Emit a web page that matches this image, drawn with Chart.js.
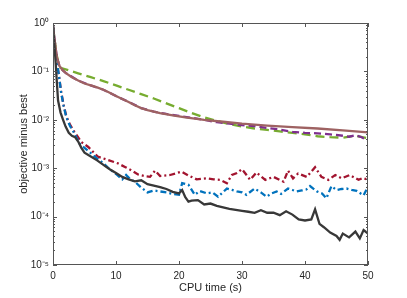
<!DOCTYPE html>
<html>
<head>
<meta charset="utf-8">
<script src="https://cdn.jsdelivr.net/npm/chart.js@4.4.1/dist/chart.umd.min.js"></script>
<style>
    html, body { margin: 0; padding: 0; background: #ffffff; }
    #wrap { width: 407px; height: 298px; }
</style>
</head>
<body>
<div id="wrap"><canvas id="convergenceChart" width="407" height="298"></canvas></div>
<script>
// tick labels
const xTicks = [0, 10, 20, 30, 40, 50];
const yTicks = [1e-5, 1e-4, 1e-3, 1e-2, 1e-1, 1];

// series (CPU time in s, objective minus best)
const blackTime = [0, 0.2, 0.4, 0.6, 0.8, 1.2, 1.6, 2.0, 2.5, 3.0, 3.5, 4.0, 4.5, 5.0, 6.0, 7.0, 8.0, 9.0, 10, 11,
    12, 13, 14, 15, 16, 17, 18, 19, 20, 20.5, 21, 21.5, 22, 23, 24, 25, 26, 27, 28, 29,
    30, 31, 32, 33, 34, 35, 36, 37, 38, 39, 40, 41, 41.6, 42.3, 43, 44, 45, 45.5, 46, 47,
    48, 48.7, 49.3, 50];
const blackGap = [8.51e-1, 3.98e-1, 1.66e-1, 6.31e-2, 2.51e-2, 1.41e-2, 1.0e-2, 7.24e-3, 5.37e-3, 4.68e-3,
    4.37e-3, 3.55e-3, 2.63e-3, 2.09e-3, 1.74e-3, 1.45e-3, 1.17e-3, 9.55e-4, 7.94e-4, 6.61e-4,
    5.89e-4, 5.37e-4, 5.62e-4, 4.68e-4, 4.37e-4, 4.07e-4, 3.72e-4, 3.24e-4, 3.02e-4, 3.55e-4,
    2.51e-4, 2.04e-4, 2.14e-4, 2.19e-4, 1.78e-4, 1.86e-4, 1.66e-4, 1.55e-4, 1.45e-4, 1.38e-4,
    1.32e-4, 1.26e-4, 1.2e-4, 1.35e-4, 1.2e-4, 1.2e-4, 1.07e-4, 1.29e-4, 1.1e-4, 8.71e-5,
    8.32e-5, 8.71e-5, 1.41e-4, 7.08e-5, 6.03e-5, 4.68e-5, 3.98e-5, 3.31e-5, 4.47e-5, 3.72e-5,
    4.9e-5, 3.55e-5, 5.25e-5, 4.47e-5];

const blueTime = [0, 0.3, 0.6, 0.9, 1.3, 1.7, 2.1, 2.7, 3.4, 4.2, 5, 6, 7, 8, 9, 10, 11, 11.6, 12.2, 13,
    14, 15, 16, 17, 18, 19, 20, 20.5, 21.5, 22.5, 23.3, 24.4, 25.3, 26.2, 27.6, 28.4, 29.2, 30, 30.7, 32,
    33, 33.9, 34.7, 35.5, 36.2, 37.3, 38, 38.7, 39.5, 40.2, 40.8, 41.9, 42.7, 43.4, 44.2, 45, 45.8, 46.6, 47.4, 48.2,
    49.3, 50];
const blueGap = [8.51e-1, 3.55e-1, 1.58e-1, 8.91e-2, 3.55e-2, 1.91e-2, 1.15e-2, 7.41e-3, 5.25e-3, 3.24e-3,
    2.63e-3, 2.04e-3, 1.58e-3, 1.26e-3, 9.55e-4, 7.59e-4, 5.89e-4, 7.24e-4, 6.03e-4, 5.25e-4,
    3.98e-4, 3.16e-4, 3.47e-4, 3.31e-4, 3.16e-4, 2.95e-4, 2.82e-4, 4.9e-4, 4.57e-4, 2.82e-4,
    3.39e-4, 3.02e-4, 3.16e-4, 2.57e-4, 3.8e-4, 3.55e-4, 3.31e-4, 3.16e-4, 2.82e-4, 3.8e-4,
    3.16e-4, 2.57e-4, 3.02e-4, 3.31e-4, 2.95e-4, 3.8e-4, 3.55e-4, 3.31e-4, 3.47e-4, 3.63e-4,
    4.27e-4, 3.31e-4, 3.02e-4, 2.4e-4, 4.27e-4, 3.55e-4, 3.72e-4, 3.8e-4, 3.55e-4, 3.39e-4,
    2.75e-4, 4.17e-4];

const redTime = [0, 0.3, 0.6, 0.9, 1.3, 1.7, 2.1, 2.7, 3.4, 4.5, 5.6, 7.1, 8.7, 10.3, 11.5, 12.4, 13.5, 14.8, 15.4, 16.2,
    17, 18.6, 20.4, 21.5, 22.8, 24.4, 25.5, 26.5, 27.6, 28.4, 29.2, 30, 31.3, 32.3, 33.7, 35, 36.6, 37.3, 38.1, 38.9,
    40.3, 41.6, 42.6, 43.7, 44.8, 45.8, 47.1, 48.5, 49.2, 50];
const redGap = [8.51e-1, 3.55e-1, 1.58e-1, 8.91e-2, 3.72e-2, 2.0e-2, 1.2e-2, 7.94e-3, 5.62e-3, 3.47e-3,
    2.75e-3, 1.74e-3, 1.48e-3, 1.26e-3, 1.05e-3, 9.12e-4, 7.41e-4, 6.76e-4, 6.61e-4, 8.91e-4,
    6.92e-4, 7.24e-4, 8.51e-4, 7.08e-4, 5.89e-4, 6.17e-4, 5.89e-4, 5.75e-4, 4.9e-4, 7.24e-4,
    7.94e-4, 9.55e-4, 5.75e-4, 8.13e-4, 5.75e-4, 6.61e-4, 5.25e-4, 8.91e-4, 6.17e-4, 7.76e-4,
    6.61e-4, 1.05e-3, 6.61e-4, 5.75e-4, 7.24e-4, 6.17e-4, 7.24e-4, 5.75e-4, 6.31e-4, 5.75e-4];

const greenTime = [0, 0.5, 1, 2, 4, 6, 8, 10, 12, 14, 16, 18, 20, 22, 24, 26, 28, 30, 32, 34,
    36, 38, 40, 42, 44, 46, 48, 50];
const greenGap = [8.51e-1, 2.51e-1, 1.2e-1, 1.1e-1, 9.12e-2, 7.59e-2, 6.31e-2, 5.13e-2, 4.17e-2, 3.39e-2,
    2.75e-2, 2.19e-2, 1.74e-2, 1.38e-2, 1.12e-2, 9.55e-3, 8.13e-3, 7.24e-3, 6.61e-3, 6.17e-3,
    5.75e-3, 5.37e-3, 5.01e-3, 4.57e-3, 4.37e-3, 4.27e-3, 4.68e-3, 4.17e-3];

const purpleTime = [0, 0.3, 0.6, 1, 1.5, 2, 4, 6, 8, 10, 12, 14, 16, 18, 20, 22, 24, 26, 28, 30,
    32, 34, 36, 38, 40, 42, 44, 46, 47, 48, 49, 50];
const purpleGap = [8.51e-1, 3.98e-1, 2.0e-1, 1.32e-1, 1.07e-1, 9.33e-2, 6.46e-2, 5.13e-2, 4.17e-2, 3.09e-2,
    2.34e-2, 1.74e-2, 1.48e-2, 1.32e-2, 1.2e-2, 1.1e-2, 1.0e-2, 8.91e-3, 8.32e-3, 7.76e-3,
    7.41e-3, 6.76e-3, 6.31e-3, 5.62e-3, 5.37e-3, 5.25e-3, 5.01e-3, 4.68e-3, 4.47e-3, 4.79e-3,
    4.37e-3, 3.63e-3];

const brownTime = [0, 0.3, 0.6, 1, 1.5, 2, 3, 4, 5, 6, 7, 8, 9, 10, 11, 12, 13, 14, 15, 17,
    19, 21, 24, 27, 30, 34, 38, 42, 46, 50];
const brownGap = [8.51e-1, 3.98e-1, 2.0e-1, 1.32e-1, 1.07e-1, 9.33e-2, 7.59e-2, 6.46e-2, 5.62e-2, 5.13e-2,
    4.68e-2, 4.17e-2, 3.63e-2, 3.09e-2, 2.69e-2, 2.34e-2, 2.0e-2, 1.74e-2, 1.58e-2, 1.38e-2,
    1.23e-2, 1.12e-2, 1.0e-2, 9.12e-3, 8.32e-3, 7.59e-3, 7.08e-3, 6.61e-3, 6.03e-3, 5.5e-3];

const FONT = "'Liberation Sans', Arial, Helvetica, sans-serif";
const TEXT = "#262626";
const SUP = { "0": "\u2070", "1": "\u00b9", "2": "\u00b2", "3": "\u00b3", "4": "\u2074", "5": "\u2075", "-": "\u207b" };

function points(times, values) {
    return times.map((t, i) => ({ x: t, y: values[i] }));
}

function series(times, values, color, dash) {
    return {
        data: points(times, values),
        borderColor: color,
        borderWidth: 2.3,
        borderDash: dash,
        pointRadius: 0,
        tension: 0,
        fill: false,
    };
}

function decadeLabel(value) {
    const e = String(Math.round(Math.log10(value)));
    return "10" + e.split("").map(c => SUP[c]).join("");
}

// MATLAB style box with inward ticks
const axisBox = {
    id: "axisBox",
    afterDraw(chart) {
        const { ctx, chartArea: area, scales } = chart;
        ctx.save();
        ctx.strokeStyle = "#555555";
        ctx.lineWidth = 1;
        ctx.strokeRect(area.left + 0.5, area.top + 0.5, area.right - area.left - 1, area.bottom - area.top - 1);
        ctx.beginPath();
        xTicks.forEach(v => {
            const px = Math.round(scales.x.getPixelForValue(v)) + 0.5;
            ctx.moveTo(px, area.bottom);
            ctx.lineTo(px, area.bottom - 4);
            ctx.moveTo(px, area.top);
            ctx.lineTo(px, area.top + 4);
        });
        yTicks.forEach(d => {
            for (let m = 1; m < 10; m++) {
                const v = m * d;
                if (v > 1.0001) break;
                const py = Math.round(scales.y.getPixelForValue(v)) + 0.5;
                const len = m === 1 ? 4 : 2;
                ctx.moveTo(area.left, py);
                ctx.lineTo(area.left + len, py);
                ctx.moveTo(area.right, py);
                ctx.lineTo(area.right - len, py);
            }
        });
        ctx.stroke();
        ctx.restore();
    }
};

const context = document.getElementById("convergenceChart");
const convergenceChart = new Chart(context, {
    type: "line",
    data: {
        datasets: [
            series(blackTime, blackGap, "#383838", []),
            series(brownTime, brownGap, "#9e6262", []),
            series(blueTime, blueGap, "#0072bd", [6, 3, 2, 3]),
            series(redTime, redGap, "#a2142f", [6, 3, 2, 3]),
            series(purpleTime, purpleGap, "#7e2f8e", [7, 4]),
            series(greenTime, greenGap, "#77ac30", [9, 5]),
        ],
    },
    options: {
        responsive: false,
        animation: false,
        layout: {
            padding: { left: 0, right: 39, top: 23, bottom: 0 }
        },
        plugins: {
            legend: { display: false },
            tooltip: { enabled: false }
        },
        scales: {
            x: {
                type: "linear",
                min: 0,
                max: 50,
                grid: { display: false, drawTicks: false },
                border: { display: false },
                afterBuildTicks: scale => { scale.ticks = xTicks.map(v => ({ value: v })); },
                afterFit: scale => { scale.height = 33; },
                ticks: {
                    autoSkip: false,
                    padding: 5,
                    color: TEXT,
                    font: { family: FONT, size: 10 },
                },
                title: {
                    display: true,
                    text: "CPU time (s)",
                    color: TEXT,
                    font: { family: FONT, size: 11 },
                    padding: { top: 0, bottom: 3 }
                }
            },
            y: {
                type: "logarithmic",
                min: 1e-5,
                max: 1,
                grid: { display: false, drawTicks: false },
                border: { display: false },
                afterBuildTicks: scale => { scale.ticks = yTicks.map(v => ({ value: v, major: true })); },
                afterFit: scale => { scale.width = 53; },
                ticks: {
                    autoSkip: false,
                    padding: 4,
                    color: TEXT,
                    font: { family: FONT, size: 10 },
                    callback: value => decadeLabel(value),
                },
                title: {
                    display: true,
                    text: "objective minus best",
                    color: TEXT,
                    font: { family: FONT, size: 11 },
                    padding: { top: 17, bottom: 0 }
                }
            }
        }
    },
    plugins: [axisBox]
});
</script>
</body>
</html>
